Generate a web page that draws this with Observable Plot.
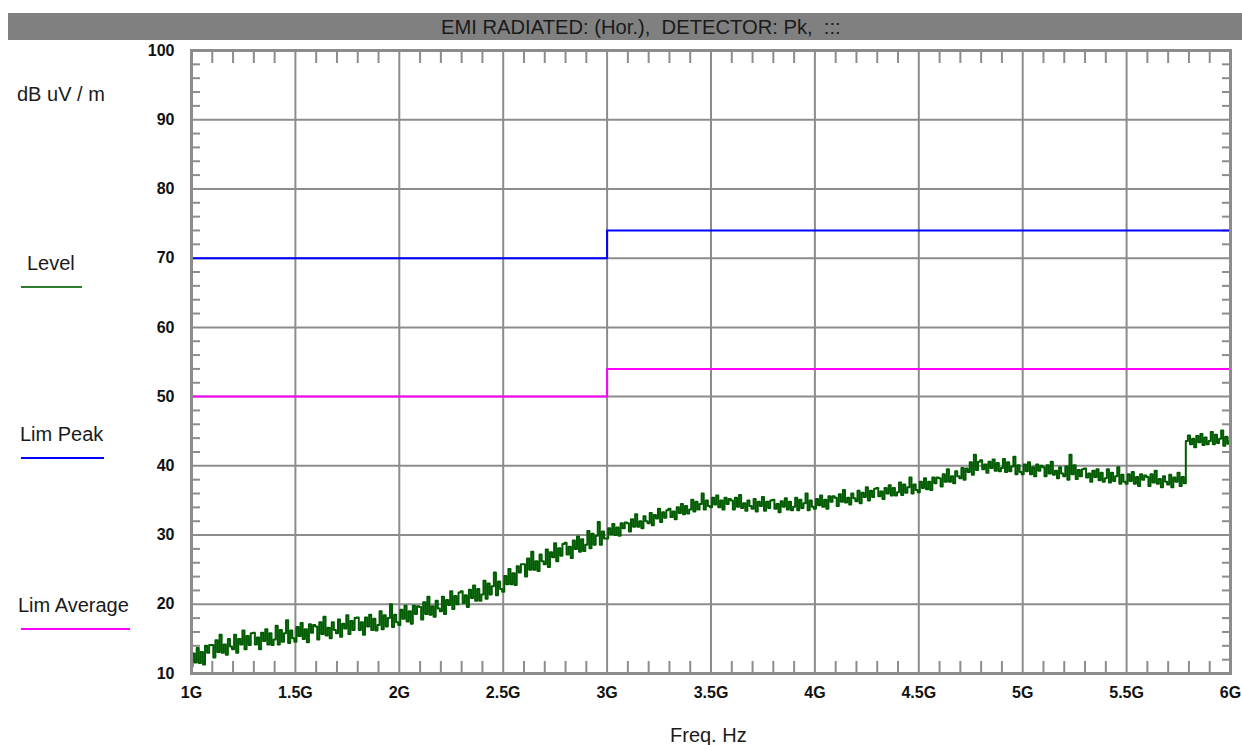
<!DOCTYPE html>
<html><head><meta charset="utf-8">
<script src="https://cdn.jsdelivr.net/npm/d3@7"></script>
<script src="https://cdn.jsdelivr.net/npm/@observablehq/plot@0.6"></script>
<style>
html,body{margin:0;padding:0;background:#fff;}
body{width:1242px;height:745px;overflow:hidden;position:relative;font-family:"Liberation Sans",Arial,sans-serif;}
#chart{position:absolute;left:0;top:0;}
.t{position:absolute;white-space:pre;color:#1a1a1a;font-size:20px;line-height:20px;}
.sw{position:absolute;height:2px;}
#bar{position:absolute;left:8px;top:13px;width:1234px;height:27px;background:#808080;}
</style>
</head><body>
<div id="chart"></div>
<div id="bar"></div>
<div class="t" id="title" style="left:441px;top:17px;font-size:20.2px;"></div>
<div class="t" id="ylab" style="left:17px;top:84px;"></div>
<div class="t" id="lg0" style="left:27px;top:253px;"></div>
<div class="sw" id="sw0" style="left:21px;top:286px;width:61px;"></div>
<div class="t" id="lg1" style="left:20px;top:424px;"></div>
<div class="sw" id="sw1" style="left:21px;top:457px;width:83px;"></div>
<div class="t" id="lg2" style="left:18px;top:595px;"></div>
<div class="sw" id="sw2" style="left:21px;top:628px;width:109px;"></div>
<div class="t" id="xlab" style="left:670px;top:725px;"></div>
<script>
const titleText = "EMI RADIATED: (Hor.),  DETECTOR: Pk,  :::";
const yAxisTitle = "dB uV / m";
const xAxisTitle = "Freq. Hz";
const seriesNames = ["Level", "Lim Peak", "Lim Average"];
const seriesColors = ["#2e7d2e", "#0000ff", "#ff00ff"];

const xMajor = [1, 1.5, 2, 2.5, 3, 3.5, 4, 4.5, 5, 5.5, 6];
const xMinor = [1.1,1.2,1.3,1.4,1.6,1.7,1.8,1.9,2.1,2.2,2.3,2.4,2.6,2.7,2.8,2.9,3.1,3.2,3.3,3.4,3.6,3.7,3.8,3.9,4.1,4.2,4.3,4.4,4.6,4.7,4.8,4.9,5.1,5.2,5.3,5.4,5.6,5.7,5.8,5.9];
const yMajor = [10, 20, 30, 40, 50, 60, 70, 80, 90, 100];
const yMinor = [12,14,16,18,22,24,26,28,32,34,36,38,42,44,46,48,52,54,56,58,62,64,66,68,72,74,76,78,82,84,86,88,92,94,96,98];

const limFreqG = [1, 3, 6];
const limPeakDb = [70, 74, 74];
const limAvgDb = [50, 54, 54];

// measured sweep, 1 GHz .. 6 GHz, 10 MHz per sample
const sweepStartG = 1.0;
const sweepStepG = 0.01;
const levelDb = [
11.0,12.9,11.6,13.7,11.5,13.1,11.3,14.0,13.0,14.1,
14.1,12.3,14.8,13.1,15.6,13.0,14.2,12.7,15.0,13.9,
13.5,15.6,13.0,15.0,14.2,16.2,13.5,15.4,14.1,15.8,
15.9,14.2,15.2,13.5,15.9,14.7,16.4,14.2,15.8,14.1,
14.9,16.9,14.2,16.3,14.6,15.8,17.7,14.4,16.2,15.1,
14.6,16.7,15.4,17.3,15.0,16.4,14.5,17.1,15.9,17.0,
16.8,14.9,17.4,15.7,18.2,15.5,16.6,15.1,17.4,16.3,
15.8,17.8,15.3,17.2,16.5,18.4,15.7,17.6,16.3,18.0,
18.1,16.3,17.4,15.6,18.1,16.8,18.5,16.3,17.9,16.2,
17.0,19.0,16.4,18.4,16.8,18.0,20.0,16.7,18.5,17.4,
17.0,19.2,17.9,19.8,17.5,19.0,17.2,19.8,18.6,19.7,
19.6,17.8,20.3,18.6,21.1,18.5,19.7,18.2,20.5,19.4,
19.0,21.1,18.6,20.6,19.9,21.9,19.3,21.2,20.0,21.7,
21.9,20.2,21.3,19.6,22.1,20.9,22.7,20.5,22.2,20.5,
21.4,23.4,20.8,23.0,21.4,22.6,24.6,21.3,23.3,22.2,
21.8,24.1,22.9,25.1,22.9,24.5,22.8,25.5,24.6,25.8,
25.8,24.0,26.6,25.0,27.6,25.0,26.2,24.8,27.2,26.2,
25.8,27.9,25.4,27.5,26.8,28.8,26.2,28.1,27.0,28.7,
28.9,27.2,28.3,26.7,29.2,28.0,29.8,27.6,29.4,27.7,
28.6,30.6,28.1,30.2,28.6,29.9,31.9,28.6,30.5,29.5,
29.5,31.0,30.1,31.6,30.0,31.1,29.9,31.7,31.0,31.8,
31.7,30.5,32.3,31.2,33.0,31.2,32.0,31.0,32.7,32.0,
31.7,33.2,31.4,32.9,32.4,33.8,31.9,33.3,32.5,33.6,
33.8,32.6,33.4,32.3,34.0,33.2,34.5,33.0,34.2,33.1,
33.7,35.1,33.4,34.8,33.7,34.5,36.0,33.7,35.0,34.2,
34.0,35.4,34.4,35.7,34.0,35.0,33.7,35.4,34.5,35.2,
35.0,33.7,35.4,34.1,35.8,33.9,34.6,33.5,35.0,34.2,
33.8,35.2,33.4,34.8,34.2,35.5,33.5,34.8,33.9,35.0,
35.1,33.8,34.5,33.3,34.9,34.1,35.3,33.7,34.8,33.6,
34.1,35.4,33.6,35.1,33.9,34.6,36.0,33.6,35.0,34.1,
33.8,35.2,34.3,35.7,34.1,35.1,33.8,35.6,34.8,35.6,
35.4,34.2,35.9,34.8,36.5,34.7,35.4,34.4,36.0,35.3,
34.9,36.4,34.6,36.1,35.5,36.9,35.0,36.4,35.5,36.7,
36.8,35.6,36.3,35.2,36.8,36.0,37.2,35.7,36.8,35.7,
36.2,37.6,35.8,37.3,36.1,36.9,38.3,36.0,37.3,36.5,
36.2,37.7,36.8,38.2,36.6,37.7,36.5,38.3,37.5,38.3,
38.2,37.0,38.8,37.7,39.5,37.7,38.5,37.5,39.2,38.5,
38.2,39.7,38.0,39.6,39.1,40.5,38.7,41.6,39.4,40.6,
40.8,39.5,40.2,39.0,40.6,39.7,40.9,39.3,40.4,39.2,
39.7,41.0,39.1,40.5,39.2,39.9,41.3,38.8,40.1,39.1,
38.8,40.2,39.2,40.5,38.8,39.8,38.5,40.2,39.3,40.0,
39.8,38.5,40.1,38.9,40.6,38.7,39.3,38.2,39.8,38.9,
38.5,39.9,38.0,41.6,38.8,40.1,38.1,39.4,38.5,39.5,
39.6,38.3,38.9,37.7,39.3,38.4,39.5,37.9,39.0,37.7,
38.2,39.5,37.6,39.0,37.8,38.5,39.8,37.4,38.7,37.7,
37.4,38.8,37.8,39.1,37.4,38.4,37.1,38.8,38.0,38.6,
38.4,37.1,38.8,37.6,39.3,37.4,38.1,36.9,38.5,37.7,
37.3,38.7,36.9,38.3,37.7,39.0,37.1,38.4,37.5,43.6,
44.4,43.1,43.9,42.7,44.3,43.4,44.6,43.0,44.1,43.1,
43.6,44.9,43.1,44.5,43.3,43.9,45.1,42.9,44.2,43.2,
43.7
];

const level = levelDb.map((v, i) => ({f: +(sweepStartG + i * sweepStepG).toFixed(2), v}));
const peak = limFreqG.map((f, i) => ({f, v: limPeakDb[i]}));
const avg = limFreqG.map((f, i) => ({f, v: limAvgDb[i]}));

const gray = "#8c8c8c";
const chart = Plot.plot({
  width: 1242, height: 745,
  marginLeft: 191, marginRight: 12, marginTop: 50, marginBottom: 72,
  x: {domain: [1, 6], label: null},
  y: {domain: [10, 100], label: null},
  style: {fontFamily: '"Liberation Sans", Arial, sans-serif', fontSize: "16px", color: "#111", background: "transparent"},
  marks: [
    Plot.gridX(xMajor, {stroke: gray, strokeOpacity: 1, strokeWidth: 2}),
    Plot.gridY(yMajor, {stroke: gray, strokeOpacity: 1, strokeWidth: 2}),
    Plot.axisX(xMinor, {anchor: "bottom", tickSize: -12, tickFormat: () => "", stroke: gray, strokeWidth: 2, label: null}),
    Plot.axisX(xMinor, {anchor: "top", tickSize: -12, tickFormat: () => "", stroke: gray, strokeWidth: 2, label: null}),
    Plot.axisY(yMinor, {anchor: "left", tickSize: -9, tickFormat: () => "", stroke: gray, strokeWidth: 2, label: null}),
    Plot.axisY(yMinor, {anchor: "right", tickSize: -9, tickFormat: () => "", stroke: gray, strokeWidth: 2, label: null}),
    Plot.axisX(xMajor, {anchor: "bottom", tickSize: 0, tickPadding: 13, tickFormat: d => d + "G", fontWeight: "bold", fontSize: 16, fill: "#111", label: null}),
    Plot.axisY(yMajor, {anchor: "left", tickSize: 0, tickPadding: 17, fontWeight: "bold", fontSize: 16, fill: "#111", label: null}),
    Plot.line(peak, {x: "f", y: "v", curve: "step-after", stroke: seriesColors[1], strokeWidth: 2}),
    Plot.line(avg, {x: "f", y: "v", curve: "step-after", stroke: seriesColors[2], strokeWidth: 2}),
    Plot.line(level, {x: "f", y: "v", curve: "step", stroke: "#005c00", strokeWidth: 2}),
    Plot.frame({stroke: gray, strokeWidth: 3})
  ]
});
document.getElementById("chart").appendChild(chart);
document.getElementById("title").textContent = titleText;
document.getElementById("ylab").textContent = yAxisTitle;
document.getElementById("xlab").textContent = xAxisTitle;
seriesNames.forEach((n, i) => {
  document.getElementById("lg" + i).textContent = n;
  document.getElementById("sw" + i).style.background = seriesColors[i];
});
</script>
</body></html>
